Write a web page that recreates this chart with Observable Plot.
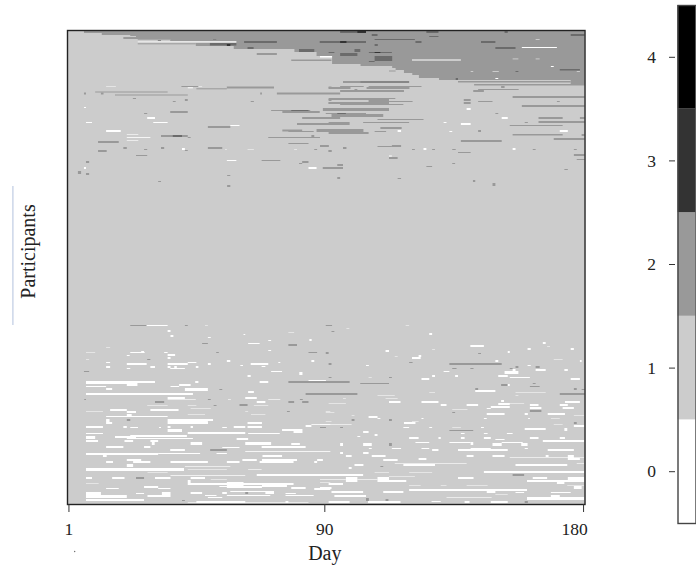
<!DOCTYPE html>
<html><head><meta charset="utf-8">
<script src="https://cdn.jsdelivr.net/npm/d3@7"></script>
<script src="https://cdn.jsdelivr.net/npm/@observablehq/plot@0.6"></script>
<style>
html,body{margin:0;padding:0;background:#fff}
#wrap{position:relative;width:696px;height:566px;overflow:hidden}
#wrap svg{position:absolute;top:0;background:transparent}
</style></head><body><div id="wrap"></div>
<script>
const levels=[0,1,2,3,4];
const levelColors=["#ffffff","#cccccc","#999999","#333333","#000000"];
const dayTicks=[1,90,180];
const rowCount=474;
// each segment: [row from top, first day edge, last day edge, rows tall]
const band=[[0,6.9,181,3],[3,13.1,181,2],[5,23,181,1],[6,25,181,1],[7,20.6,181,2],[9,36.9,181,2],[11,59.9,181,2],[13,45.8,181,3],[16,59,181,3],[19,80.1,181,3],[22,87.8,181,4],[26,93.2,181,8],[34,103.1,181,2],[36,114.1,181,2],[38,115.3,181,2],[40,118.2,181,3],[43,121.1,181,2],[45,123.4,181,3],[48,130.4,181,2],[50,176.2,181,4],[54,142.6,181,1.5]];
const greySegments=[
[9.3,25.6,36.9,.7],[13.3,25.6,45.8,1],[23,67,74,2],[29.5,79,93,1.5],[40.5,113,115.3,1],[51,137,176.2,1.5],
[56,40.8,46.7,1],[58.3,46,56.6,1],[56.5,56.6,73,2],[56.5,92,93,2],[61.5,10.8,36,1],[62.5,6.9,7.6,2],[62.5,12.8,13.7,2],[64.5,17.7,43,1],[62.5,68.2,68.8,2],[62.5,74,96,2],[68,23.9,25,1],[69,42,43,2],[71,37.8,38.8,1],[71,64.9,66,1],[69,92,93,2],[72,92,93,2],[83,27.8,28.9,1],[81,36.9,43,2],[80,72,85.6,1],[81,75.9,88.9,2],[78,90,113,3],[83,91,105,1],[87,82.8,96,2],[93,81,92.6,2],[96,50,57.8,2],[99.5,75.9,82.8,2],[101,78,86.8,1],[99,87.8,104.1,3],[105,33.7,43,2],[107,43,44,1],[107,71,89,1],[105,86,87,2],[111,11.8,19,2],[113,78,85,1],[115,89,92,2],[117,20.6,21.8,2],[119,27.8,28.9,1],[117,33.7,34.8,2],[120,42,43,1],[117,50,55,2],[119,87,88,1],[120,11.8,14.8,2],[120,92,93,2],[125,25,28.9,1],[131,7.6,8.7,2],[130,68.7,75.2,1],[131,82.8,85,2],[133,81.7,82.8,1],[137,90,97,2],[141,4.8,5.9,3],[143,7.6,8.7,2],[145,56.7,57.8,1],[151,32.7,33.7,1],[155,56.7,57.8,2],
[51,97,103,2],[56,105.9,124.3,1],[57,92,99.6,2],[56,96,104.2,1],[57,105.2,120.1,2],[60,96,118.2,2],[59,101,102,1],[68,92,113,2],[68,106,115.2,1],[69,105.9,113,4],[72,92,113,2],[71,113,121.2,1],[74,96,118,1],[69,139,141.4,2],[72,139,141.4,2],[71,144,149,1],[71,171.4,172.4,1],[66,156,181,2],[75,159.2,181,2],[60,142.3,146,2],[59,144,158.1,1],[56,152,153.2,2],[83,150,151,1],[84,93,111,3],[87,165,173.4,2],[87,179.4,181,2],[89,109,125,1],[91,165,181,2],[92,104,120,1],[92,92,99.3,3],[93,89,92,2],[92,160.2,161.3,1],[95,155,173.4,1],[97,110,117.4,2],[101,108,112,1],[102,92,105.9,2],[100,144,145,2],[104,156,173.4,1.5],[104,180,181,2],[110,138,152.2,2],[108,170.3,181,2],[115,89,92,2],[115,114,117.2,2],[116,109,114,1],[117,97,98.2,2],[119,121,122,1],[119,128,129,1],[119,135,136.2,1],[119,163,164,1],[119,177.3,178.3,1],[120,92,93,2],[122,137,141.4,1],[124,177.3,181,2],[127,113,116,2],[129,178.3,181,1],[134,95,97,2],[133,135,136,1],[136,126,128,1],[137,90,97,2],[139,174,175.2,1],[147,95,96,2],[148,116,117.2,1],[150,142.2,143,2],[153,149,150,3],
[295,23,28.7,1],[295,42,43,1],[313,48,50,1],[314,78,81,2],[322,52.9,53.8,1],[322,85,88,1],[322,91,92,1],[329,28.9,30,1],[341,6.9,8.7,1],[351,78,99.3,2],[359,54,55,1],[363,84,102,2],[369,7,7.6,1],[369,50,51,1],[369,82,83,1],[371,31.6,34.8,2],[371,78,80,2],[371,82.8,85,2],[374,61,63.8,2],[375,52,53,1],[381,77.5,78.5,1],[389,21.8,23,2],[397,89,91,1],[419,50.8,56.6,2],[447,25,27.8,2],[462,63,64,2],[470,41,42,1],
[295,91,93.2,1],[301,93,94,1],[323,91,92,1],[323,144,145,1],[332,120,121.2,1],[333,134,152.2,2],[333,92,93,2],[336,164,165.4,2],[336,157,158,2],[338,135,136.5,1],[338,141.3,142.4,1],[338,155,156,1],[347,92,93,1],[347,113,114,1],[353,103,113,1],[353,163,164,1],[354,152,154.3,2],[356,162,165.4,1],[358,143,144,2],[358,177.3,178.3,2],[359,180,181,1],[363,172.4,181,2],[380,162,166,2],[382,135,136,1],[389,100,101,2],[389,113,114,2],[392,177.3,178.3,2],[397,89,91,1],[397,96,97,1],[400,134,142.3,1],[413,113,114,3],[436,110,111,1],[444,156,160,2],[469,111.8,112.8,3],[471,160.2,161.3,2],[468,105,106,3]
];
const midSegments=[
[11,62.6,74,2],[17,63.8,65.9,2],[19,81.7,87,3],[11,88.9,105,2],[13,50.7,59.9,2.5],[9.3,51.8,52.9,.5],[10,32.6,33.7,1],[80,79,85,1],[105,37.8,41,2],
[1,96,105,2],[1,126,130.2,2],[1,153.2,154.3,2],[4,107,109,2],[6,127,130.2,1],[4,176.2,181,2],[9,108,122,1],[11,122.2,124.3,2],[11,145,150,2],[14,108,109.1,2],[17,150,157,2],[19,101,103,3],[22,92,94,1],[23,96,102,3],[22,106,114,1],[26,108,114.1,5],[31,106,108,1],[39,172.4,179.4,1.5],[41,157,158,1],[48,136.2,137,2],[51,103,120,2],[83,95,98,1]
];
const darkSegments=[[14,56.6,57.8,2],[1,102,105,2],[11,96,98.2,2],[22,108,110,1]];
const whiteSegments=[
[56,14.6,18,.5],[56,46.7,48,.5],[57.3,43,44.8,1],[11.5,25.6,59.9,.7],[77,6.9,7.6,1],[87,28.9,31.6,2],[92,7.6,9.7,1],[92,31,36,1],[95,57.8,61,1],[100,14.6,19.7,2],[104,21.8,25.8,.6],[107,21.8,30,.8],[110,21.8,25.8,.6],[118,41,42,2],[119,56,56.6,.5],[119,63.8,66,.5],[119,80,81,.5],[130,56.6,59.9,1],[137,6.9,7.6,2],[137,85,87.8,2],
[9,164,165.4,.5],[17,159.2,171.4,1],[26,89,93.2,1.5],[29.5,121,138,1],[28.7,156,158,.5],[28.7,164,165.4,.5],[36,169.3,170.3,1],[41,178.3,179.4,.5],[41,141.4,142.3,.5],[41,149,151.2,.5],[48,150,151,1],[78,140,141.4,2],[87,152.2,154.3,2],[92,132,133,1],[93,138,141.4,2],[100,116,117.2,2],[100,172.4,175.2,2],[101,134,135,1],[118,125,126,2],[118,156,157,2],[125.5,113,114,1],
[295,28.7,36,1],[295,49,50,.5],[300,36,37,2],[302,78,80,.5],[305,37,38,2],[304,62.4,63,1],[307,50,51,1],[309,85.3,86.1,2],[310,71,72,1],[313,64,68,1],[317,14.6,16,.5],[320,71,72,1],[322,7.6,10.8,.5],[322,23,28,1],[321,26.8,27.8,2],[322,34.8,36,1],[324,36,38.6,2],[325,21.8,22.8,1],[327,36,37,2],[329,7.6,8.7,.5],[330,56.6,57.8,2],[330,86,87,2],[332,14.6,16,1],[332,43,46,1],[332,74.5,75.2,1],[333,21.8,28.7,2],[333,36,43,2],[333,50,51,2],[333,64.9,71,2],[335,61.3,62.2,1],[336,14.6,16,2],[336,30,31.6,2],[336,36,37,2],[336,38.3,39.2,2],[336,45.8,46.7,2],[336,68.7,70,1],[338,21.8,23,1],[338,36.9,42,1],[341,72,75.8,1],[342,81.8,82.9,3],[345,63.8,64.9,2],[351,7.6,31.6,2],[352,7.6,25.5,2],[354,21.8,25.5,2],[351,45.6,46.7,2],[351,68,71,2],[350,85,91,1],[354,40,44,2],[356,37,40,1],[356,7.6,14.6,1],[358,14.6,16.7,2],[358,42,50,3],[361,64,66,2],[363,7.6,44.8,2],[367,36,42,2],[367,63,67,2],[369,36,45.8,.6],[369,57,58,.6],[369,71,75.2,.6],[371,67,70,2],[375,28.9,36,.5],[375,43,46,.5],[375,66,71,.5],[378,44,51,.5],[379,16,21.8,2],[379,30,39.8,2],[381,21.8,25,2],[381,7.6,13.5,.5],[381,63,64,.5],[381,91,92.6,.5],[384,43,49,.5],[384,65,70,.5],[384,21.8,23.5,2],[386,14.6,36,1],[389,14.6,15.8,3],[389,36,51.8,2],[391,36,50,3],[392,14.6,16.7,2],[392,43.8,50,2],[392,63.8,68.8,2],[396,7.6,13.5,2],[396,20.6,21.8,2],[396,36,37,2],[396,44,44.8,2],[396,59,63,2],[396,63.8,68.8,2],[394,86,92.6,.8],[397,23,25.7,1],[397,33,33.7,1],[397,55,56.6,1],[397,64,68,1],[395,84,86,2],[399,36,41,3],[399,75.8,82.9,2],[402,43,63,2],[401,79.8,82.9,2],[403,7.6,13.5,1],[403,64,75,1],[405,23,42.7,2],[406,7.6,10.8,2],[406,17.7,25,2],[408,60,64,2],[408,21.8,44.8,1],[408,7.6,10.8,1],[410,7.6,11.8,2],[410,21,24,2],[410,30,32.7,2],[412,30.5,31.5,3],[412,44,48,3],[412,63,72,3],[413,79,82,2],[416,14.6,20.6,2],[416,27.8,30,2],[417,55,61,1],[416,68.7,84,2],[419,36.9,42,2],[421,63,92.6,.8],[423,7.6,32.7,2],[423,32.7,47.3,1],[423,53,56.6,1],[425,13.5,14.8,2],[425,69,75.8,2],[429,21.8,26.8,2],[429,62,67,2],[429,68.8,81,2],[429,88,90,2],[431,14.6,17,2],[431,24,30,2],[431,37,50,2],[431,56.6,61,2],[431,68,79.8,2],[431,87,88,2],[436,42,57.8,.6],[434,21.8,24,3],[438,7.6,41.7,3],[439,43,56.6,.5],[439,64,68.7,.6],[442,29,36,.5],[444,67,92.6,2],[445,37,63,.7],[447,7.6,9.7,2],[447,16.7,21,2],[447,31.6,37,2],[447,44,49,2],[449,51,56.6,.5],[450,43,44,3],[453,43,79.8,2],[453,7.6,12,.5],[452,56.6,62.4,4],[452,89,92.6,.5],[456,27.8,32.7,2],[456,54,68,1],[455,68.8,77.5,2],[456,56.6,68.8,2],[458,14.6,19,1],[458,32.7,37,1],[457,79,84,2],[458,87,92.6,2],[461,57.8,73,1],[462,7.6,12.8,3],[463,25,27.8,1],[462,34,37,3],[462,44,48,2],[462,55,56.6,2],[462,70,73,2],[463,77,80.6,1],[465,7.6,21.8,3],[465,29,37,2],[465,49,53,1],[465,56.6,71.7,1],[465,77,86.8,1],[467,50,55,1],[469,7.6,27.8,2],[471,46,63,2],[471,77,78,2],[472,43,85,.6],
[295,118.8,120,.5],[298,98.2,99.2,.5],[303,127,128,2],[312,166.5,167.5,2],[315,141.3,146,2],[316,168,169,.5],[318,161.2,162.3,2],[318,176.2,177.3,2],[319,128,129,.5],[320,111.8,113,2],[321,154.3,155,2],[326,115,116,.5],[325,123.3,124.2,2],[327,121,124,2],[329,170.3,173.4,.5],[330,150,151,2],[330,179.4,180,2],[335,105,106,1],[335,161.2,162.3,1],[339,156,157,2],[339,164,167.5,2],[339,174,175.2,2],[341,132,134,1],[341,153.2,158,3],[345,151,154.3,2],[347,105.9,107,.5],[347,155,162,1],[345,128,129,2],[345,136,137,2],[348,124.3,127,2],[348,176.2,179.4,2],[350,89,91,1],[354,154.3,155,2],[360,143,150,2],[362,157,167.5,.5],[362,127,129,.5],[365,109,115,.5],[365,157,158,.5],[368,111.8,116,.5],[368,97,98,.5],[371,113,117,2],[371,124.3,130.2,2],[371,174.2,179.4,2],[370,152,153,2],[373,92,98,.5],[373,154,160,.5],[374,131,133,2],[374,140,144,2],[373,151,155,2],[374,162,165,2],[374,172.4,175.2,2],[376,148.4,155,2],[377,162,166,2],[377,173.4,177.3,2],[379,135,140.3,.5],[378,147,148.4,1],[382,91,94,.5],[383,147,153.2,2],[383,168.2,174.2,2],[383,160.2,161.3,2],[385,100,101,.5],[385,177.3,181,.5],[386,105.9,109,2],[388,109,110,1],[388,169.3,172.4,.5],[388,146,147,1],[388,124.3,125,1],[388,161.4,162,1],[391,91,93,.5],[391,121,123.3,.5],[392,118.2,122.2,2],[394,89,100,.6],[394,170.3,173.4,.5],[395,177.3,181,2],[397,118,120,1],[397,135,138,.5],[397,145,146,1],[397,127,128,1],[398,160.2,167.5,2],[398,174,175,3],[401,104,105.9,2],[403,146,147.3,1],[403,154,156,1],[403,138,139.3,1],[404,108,109,2],[406,102,103,1],[407,120,123.3,2],[407,130.2,131,2],[407,138,139.3,2],[407,146,148.4,2],[407,162,165,2],[407,172.4,174.2,2],[409,150,153.2,1],[410,166.5,181,2],[412,122.2,127,1],[412,134,141.4,1],[412,141.4,142.3,3],[412,152.2,159.5,1],[413,96,97,3],[413,104,107,3],[413,149,152.2,3],[413,159,161.2,3],[418,106,107,1],[418,114,117.2,1],[418,124.3,127,1],[418,141.4,148.4,1],[418,160.2,161.3,1],[419,128,130.2,2],[419,137,154.3,2],[419,168.2,177.3,2],[422,96,97,2],[422,104,105.9,2],[425,98,100,2],[425,107,111.8,2],[425,140,142.4,2],[425,149,153.2,2],[427,155,181,.6],[425,175.2,177.3,3],[425,167.5,168.5,2],[429,111,116,2],[428,123.3,126,2],[428,175.2,179.4,2],[433,115,140,.6],[433,178.3,181,.6],[434,101,104.1,2],[434,118,129,2],[434,157,175,2],[437,99,100,2],[441,146,181,2],[442,108,113,.5],[442,120,128,.5],[444,89,104,2],[446,113,122,.5],[447,98,102,5],[447,109,113,5],[447,137,142.4,2],[447,163,168,2],[447,175.2,181,3],[449,89,98,.6],[449,102,109,.6],[450,161,181,2],[450,113,119,2],[453,92,97,2],[452,171.4,174,2],[455,120,124,.5],[455,131,133,.5],[455,140,147.3,.5],[455,175,181,.5],[457,89,93,2],[456,177.3,180,3],[459,120,161,2],[461,93,104,2],[461,111,118,2],[461,147,150,2],[462,157,160,1],[462,169.3,176.2,1],[464,150,154.3,.5],[465,94,105,2],[465,169.3,172.4,2],[467,133,148.7,.6],[467,161,181,3],[471,92,99.3,2],[471,105.7,117,2],[471,127.8,131,1],[471,139.3,141,2],[471,148.4,154.3,2]
];
const background=[[0,rowCount]];
const strayRule=[[-18.5,156,295]];
const strayDot=[[3,521]];

const seg=(data,level,extra={})=>Plot.rect(data,{x1:d=>d[1]-.5,x2:d=>d[2]-.5,y1:d=>d[0],y2:d=>d[0]+d[3],fill:()=>level,...extra});
const serif='"Liberation Serif","Times New Roman",serif';
const ink="#222";
const blank=()=>"";

const main=Plot.plot({
  width:696,height:566,marginLeft:67,marginRight:111.5,marginTop:30,marginBottom:62,
  style:{background:"transparent",fontFamily:serif},
  x:{domain:[.5,180.5]},
  y:{domain:[0,rowCount],reverse:true,axis:null},
  color:{type:"ordinal",domain:levels,range:levelColors},
  marks:[
    Plot.rect(background,{x1:()=>.5,x2:()=>180.5,y1:d=>d[0],y2:d=>d[1],fill:()=>1}),
    seg(band,2),
    seg(greySegments,2),
    seg(midSegments,3,{fillOpacity:.45}),
    seg(darkSegments,3),
    seg(whiteSegments,0),
    Plot.frame({stroke:ink,strokeWidth:1.4}),
    Plot.axisX(dayTicks,{tickFormat:blank,tickSize:8,stroke:"#333",label:null}),
    Plot.text(dayTicks.slice(0,2),{x:d=>d,frameAnchor:"bottom",dy:25,fontSize:17.5,fill:ink,lineAnchor:"middle"}),
    Plot.text(dayTicks.slice(2),{x:d=>d,frameAnchor:"bottom",dy:25,dx:-9,fontSize:17.5,fill:ink,lineAnchor:"middle"}),
    Plot.text(["Day"],{x:()=>90,frameAnchor:"bottom",dy:49,fontSize:20,fill:ink,lineAnchor:"middle"}),
    Plot.text(["Participants"],{y:()=>221,frameAnchor:"left",dx:-39,rotate:-90,textAnchor:"middle",fontSize:20,fill:ink}),
    Plot.ruleX(strayRule,{x:d=>d[0],y1:d=>d[1],y2:d=>d[2],stroke:"#ccd6e8",strokeWidth:1.5}),
    Plot.dot(strayDot,{x:d=>d[0],y:d=>d[1],r:.7,fill:"#666"})
  ]
});

const legend=Plot.plot({
  width:66,height:566,marginLeft:47.5,marginRight:.5,marginTop:5,marginBottom:43,
  style:{background:"transparent",fontFamily:serif},
  x:{domain:[0,1],axis:null},
  y:{domain:[-.5,4.5],axis:null},
  color:{type:"ordinal",domain:levels,range:levelColors},
  marks:[
    Plot.rect(levels,{x1:()=>0,x2:()=>1,y1:d=>d-.5,y2:d=>d+.5,fill:d=>d}),
    Plot.frame({stroke:"#444",strokeWidth:1.4}),
    Plot.axisY(levels,{tickFormat:blank,tickSize:6,stroke:"#333",label:null,dx:-2.5}),
    Plot.text(levels,{y:d=>d,frameAnchor:"left",dx:-26.5,textAnchor:"middle",fontSize:17.5,fill:ink})
  ]
});
legend.style.left="630px";
const wrap=document.getElementById("wrap");
main.style.left="0";
wrap.append(main,legend);
</script></body></html>
